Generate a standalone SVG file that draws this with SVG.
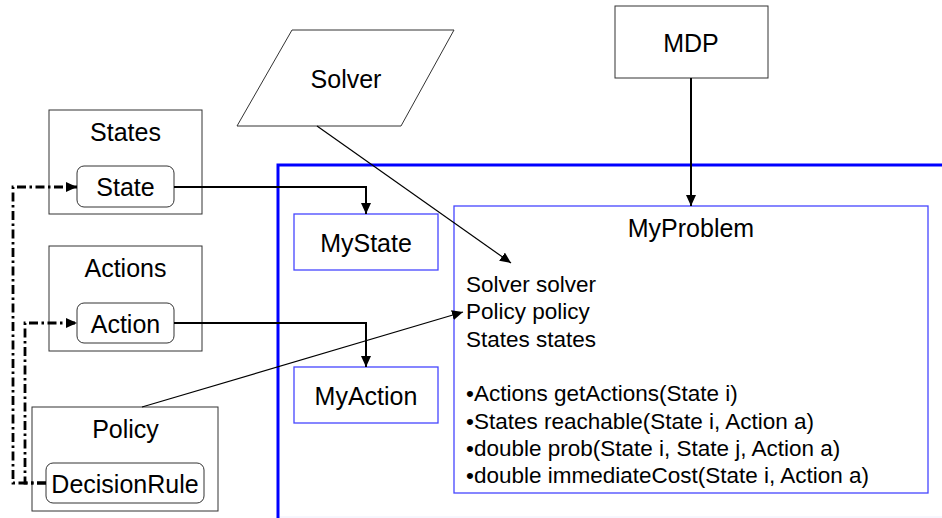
<svg xmlns="http://www.w3.org/2000/svg" width="942" height="518" viewBox="0 0 942 518">
<style>
  text { font-family: "Liberation Sans", Arial, sans-serif; fill: #000; }
  .lbl { font-size: 25px; text-anchor: middle; }
  .body { font-size: 22.5px; }
  .box { fill: #fff; stroke: #333; stroke-width: 1; }
  .bbox { fill: #fff; stroke: #4646ff; stroke-width: 1.3; }
  .conn { fill: none; stroke: #000; stroke-width: 2; }
  .thin { fill: none; stroke: #000; stroke-width: 1.2; }
  .dd { fill: none; stroke: #000; stroke-width: 2.8; stroke-dasharray: 9 3.5 2.5 3.5; }
</style>
<defs>
  <marker id="ah" markerUnits="userSpaceOnUse" markerWidth="12" markerHeight="10" refX="11" refY="5" orient="auto">
    <path d="M0,0 L11,5 L0,10 z" fill="#000"/>
  </marker>
</defs>
<rect width="942" height="518" fill="#fff"/>

<g id="frame">
  <line x1="278" y1="517" x2="942" y2="517" stroke="#eeeefc" stroke-width="1"/>
  <path d="M278,518 V165 H942" fill="none" stroke="#0000ff" stroke-width="3"/>
</g>

<g id="solver">
  <polygon points="292,30 454,30 401,126 237,126" fill="#fff" stroke="#333" stroke-width="1"/>
  <text class="lbl" x="346" y="88">Solver</text>
</g>
<g id="mdp">
  <rect class="box" x="615" y="6" width="153" height="72"/>
  <text class="lbl" x="691" y="52">MDP</text>
</g>

<g id="states">
  <rect class="box" x="49" y="110" width="153" height="104"/>
  <text class="lbl" x="125.5" y="141">States</text>
  <g id="state">
    <rect class="box" x="77" y="166" width="97" height="41" rx="7"/>
    <text class="lbl" x="125.5" y="196">State</text>
  </g>
</g>
<g id="actions">
  <rect class="box" x="49" y="246" width="153" height="105"/>
  <text class="lbl" x="125.5" y="277">Actions</text>
  <g id="action">
    <rect class="box" x="77" y="303" width="97" height="40" rx="7"/>
    <text class="lbl" x="125.5" y="332.5">Action</text>
  </g>
</g>
<g id="policy">
  <rect class="box" x="32" y="407" width="186" height="104"/>
  <text class="lbl" x="125.5" y="437.5">Policy</text>
  <g id="decisionrule">
    <rect class="box" x="46" y="463" width="158" height="40" rx="7"/>
    <text class="lbl" x="125" y="493">DecisionRule</text>
  </g>
</g>

<g id="mystate">
  <rect class="bbox" x="294" y="214" width="144" height="56"/>
  <text class="lbl" x="366" y="252">MyState</text>
</g>
<g id="myaction">
  <rect class="bbox" x="294" y="367" width="144" height="56"/>
  <text class="lbl" x="366" y="405">MyAction</text>
</g>
<g id="myproblem">
  <rect class="bbox" x="454" y="206" width="474" height="287"/>
  <text class="lbl" x="691" y="237">MyProblem</text>
  <text class="body" x="466" y="292">Solver solver</text>
  <text class="body" x="466" y="319">Policy policy</text>
  <text class="body" x="466" y="346.5">States states</text>
  <text class="body" x="466" y="401">•Actions getActions(State i)</text>
  <text class="body" x="466" y="428.5">•States reachable(State i, Action a)</text>
  <text class="body" x="466" y="456">•double prob(State i, State j, Action a)</text>
  <text class="body" x="466" y="483">•double immediateCost(State i, Action a)</text>
</g>

<g id="connectors">
  <path class="conn" d="M174,187 H366 V214" marker-end="url(#ah)"/>
  <path class="conn" d="M174,323 H366 V367" marker-end="url(#ah)"/>
  <path class="conn" d="M691,78 V206" marker-end="url(#ah)"/>
  <path class="thin" d="M317,126 L511,263" marker-end="url(#ah)"/>
  <path class="thin" d="M142,407 L463,312" marker-end="url(#ah)"/>
  <path class="dd" d="M46,483 H13 V187 H77" marker-end="url(#ah)"/>
  <path class="dd" d="M46,483 H25 V323 H77" marker-end="url(#ah)"/>
</g>
</svg>
